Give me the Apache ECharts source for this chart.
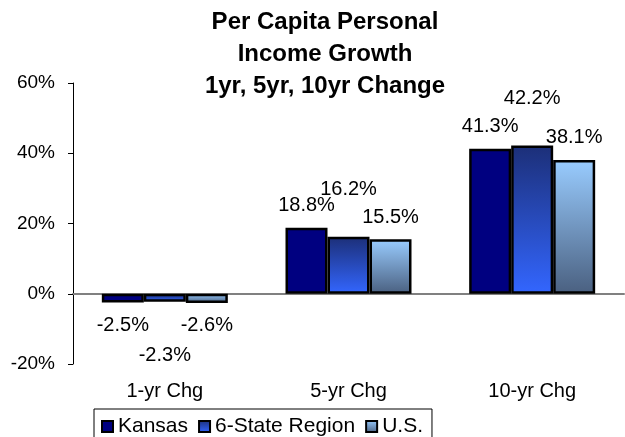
<!DOCTYPE html>
<html>
	<head>
		<meta charset="utf-8" />
		<title></title>
		<script src="https://cdn.jsdelivr.net/npm/echarts@6/dist/echarts.min.js"></script>
		<style>
			*{
				padding: 0;
				margin: 0;
			}
			.main{
				width: 625px;
				height: 437px;
			}
		</style>
	</head>
	<body>
		<div id="main" class="main"></div>
		<script type="text/javascript">

		var categories = ['1-yr Chg', '5-yr Chg', '10-yr Chg'];
		var kansas = [-2.5, 18.8, 41.3];
		var region = [-2.3, 16.2, 42.2];
		var us = [-2.6, 15.5, 38.1];
		var yTicks = [-20, 0, 20, 40, 60];

		var font = '"Liberation Sans", Arial, sans-serif';

		// label above positive bars, below negative ones
		function toItems(values, up, down) {
			return values.map(function (v) {
				return {
					value: v,
					label: {
						position: v < 0 ? 'bottom' : 'top',
						distance: v < 0 ? down : up
					}
				};
			});
		}

		function grad(top, bottom) {
			return new echarts.graphic.LinearGradient(0, 0, 0, 1, [
				{offset: 0, color: top},
				{offset: 1, color: bottom}
			]);
		}

		var labelStyle = {
			show: true,
			color: '#000',
			fontSize: 20,
			fontFamily: font,
			formatter: function (p) {
				return p.value.toFixed(1) + '%';
			}
		};

		var myChart = echarts.init(document.getElementById('main'));

		var option = {
			backgroundColor: '#fff',
			animation: false,
			title: {
				text: 'Per Capita Personal\nIncome Growth\n1yr, 5yr, 10yr Change',
				left: 320,
				textAlign: 'center',
				top: 1,
				textStyle: {
					fontSize: 24,
					fontWeight: 'bold',
					fontFamily: font,
					color: '#000',
					lineHeight: 32
				}
			},
			grid: {
				left: 73,
				right: 1,
				top: 83,
				bottom: 73
			},
			legend: {
				left: 94,
				top: 409,
				padding: [7, 9, 7, 7],
				borderColor: '#000',
				borderWidth: 1,
				itemWidth: 11,
				itemHeight: 11,
				itemGap: 10,
				icon: 'rect',
				itemStyle: {
					borderColor: '#000',
					borderWidth: 2
				},
				textStyle: {
					fontSize: 21,
					fontFamily: font,
					color: '#000'
				},
				data: ['Kansas', '6-State Region', 'U.S.']
			},
			xAxis: [{
				// zero line
				type: 'category',
				data: categories,
				axisLine: {
					onZero: true,
					lineStyle: {color: '#808080', width: 2}
				},
				axisTick: {show: false},
				axisLabel: {show: false}
			}, {
				// category labels along the bottom
				type: 'category',
				position: 'bottom',
				data: categories,
				axisLine: {show: false, onZero: false},
				axisTick: {show: false},
				axisLabel: {
					margin: 17,
					fontSize: 20,
					fontFamily: font,
					color: '#000'
				}
			}],
			yAxis: {
				type: 'value',
				min: yTicks[0],
				max: yTicks[yTicks.length - 1],
				interval: yTicks[1] - yTicks[0],
				splitLine: {show: false},
				axisLine: {
					show: true,
					lineStyle: {color: '#000', width: 1}
				},
				axisTick: {
					show: true,
					length: 5,
					lineStyle: {color: '#000'}
				},
				axisLabel: {
					margin: 18,
					fontSize: 19,
					fontFamily: font,
					color: '#000',
					formatter: '{value}%'
				}
			},
			series: [{
				name: 'Kansas',
				type: 'bar',
				barWidth: 42,
				barGap: '0%',
				itemStyle: {color: '#000080', borderColor: '#000', borderWidth: 2.5},
				label: labelStyle,
				data: toItems(kansas, 12, 13)
			}, {
				name: '6-State Region',
				type: 'bar',
				barWidth: 42,
				barGap: '0%',
				itemStyle: {color: grad('#1c2f78', '#3366ff'), borderColor: '#000', borderWidth: 2.5},
				label: labelStyle,
				data: toItems(region, 37, 44)
			}, {
				name: 'U.S.',
				type: 'bar',
				barWidth: 42,
				barGap: '0%',
				itemStyle: {color: grad('#99ccff', '#4a6080'), borderColor: '#000', borderWidth: 2.5},
				label: labelStyle,
				data: toItems(us, 12, 13)
			}]
		};

		myChart.setOption(option);
		</script>
	</body>
</html>
